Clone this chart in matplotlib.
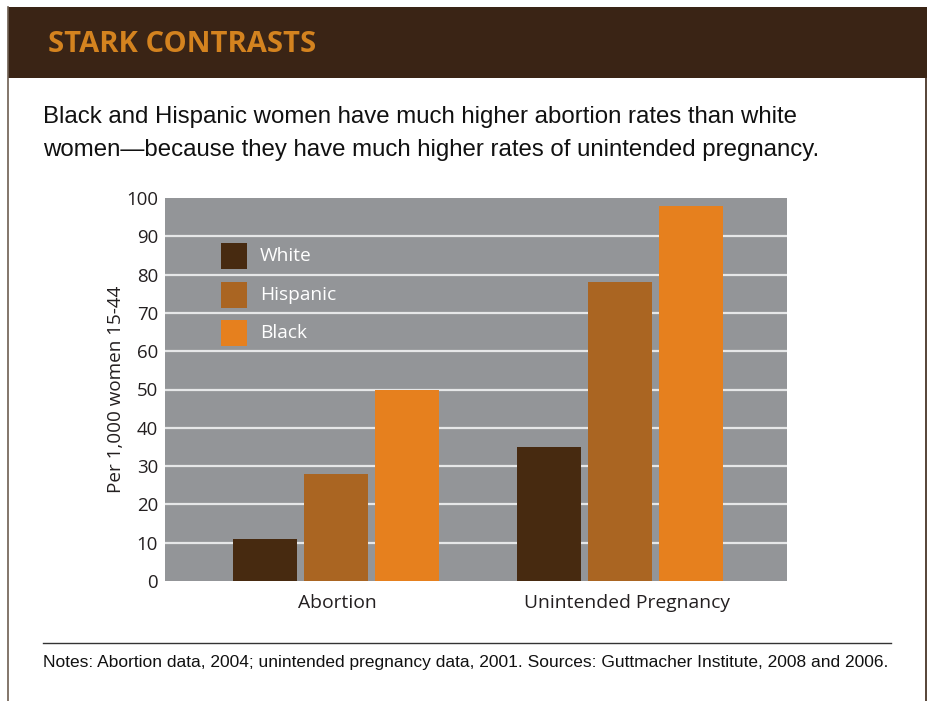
import matplotlib
matplotlib.use("Agg")
import matplotlib.pyplot as plt
from matplotlib.patches import Rectangle
from matplotlib.lines import Line2D
from matplotlib.transforms import ScaledTranslation
import numpy as np

categories = ["Abortion", "Unintended Pregnancy"]
series_names = ["White", "Hispanic", "Black"]
white = [11, 35]
hispanic = [28, 78]
black = [50, 98]
yticks = [0, 10, 20, 30, 40, 50, 60, 70, 80, 90, 100]
colors = ["#472a10", "#aa6522", "#e6801e"]

W, H = 928, 701
fig = plt.figure(figsize=(W / 100, H / 100), dpi=100)
fig.patch.set_facecolor("white")

def fx(px):
    return px / W

def fy(py):
    return 1 - py / H

# header band
fig.add_artist(Rectangle((fx(8), fy(78)), fx(919), (78 - 7) / H, transform=fig.transFigure,
                         facecolor="#3a2415", edgecolor="none", zorder=0))
# borders
fig.add_artist(Line2D([fx(8.5), fx(8.5)], [fy(7), 0], transform=fig.transFigure, color="#6e5f52", lw=1.2))
fig.add_artist(Line2D([fx(926.5), fx(926.5)], [fy(78), 0], transform=fig.transFigure, color="#3a2415", lw=1.2))

fig.text(fx(48), fy(44), "STARK CONTRASTS", color="#d4831f", fontsize=21, fontweight="bold",
         family=["Open Sans", "DejaVu Sans"], va="center", ha="left")

fig.text(fx(43), fy(117), "Black and Hispanic women have much higher abortion rates than white",
         fontsize=17.3, family=["Liberation Sans", "DejaVu Sans"], va="center", ha="left", color="#111111")
fig.text(fx(43), fy(150), "women\u2014because they have much higher rates of unintended pregnancy.",
         fontsize=17.3, family=["Liberation Sans", "DejaVu Sans"], va="center", ha="left", color="#111111")

# notes
fig.add_artist(Line2D([fx(43), fx(891)], [fy(643), fy(643)], transform=fig.transFigure, color="#333333", lw=1.0))
fig.text(fx(43), fy(662), "Notes: Abortion data, 2004; unintended pregnancy data, 2001. Sources: Guttmacher Institute, 2008 and 2006.",
         fontsize=12.55, family=["Liberation Sans", "DejaVu Sans"],
         va="center", ha="left", color="#111111")

ax = fig.add_axes([fx(165), 120 / H, 622 / W, 383 / H])
ax.set_facecolor("#939598")
for s in ax.spines.values():
    s.set_visible(False)

x = np.arange(len(categories))
step = 71 / 284
width = 64 / 284
for i, (vals, name) in enumerate(zip([white, hispanic, black], series_names)):
    ax.bar(x + (i - 1) * step, vals, width=width, color=colors[i], label=name, zorder=3)

ax.set_ylim(0, 100)
ax.set_xlim(-0.602, 1.588)
ax.set_yticks(yticks)
ax.set_yticklabels([str(t) for t in yticks])
for t in yticks:
    if 0 < t < 100:
        ax.axhline(t, color="#e6e7e8", lw=1.6, zorder=1)
ax.set_xticks(x)
ax.set_xticklabels(categories)
ax.tick_params(axis="both", length=0, colors="#231f20")
ax.tick_params(axis="y", pad=5, labelsize=13.4)
ax.tick_params(axis="x", pad=9, labelsize=13.9)
for lab in ax.get_xticklabels() + ax.get_yticklabels():
    lab.set_family(["Open Sans", "DejaVu Sans"])
xl = ax.get_xticklabels()
xl[0].set_transform(xl[0].get_transform() + ScaledTranslation(1.5 / 100, 0, fig.dpi_scale_trans))
xl[1].set_transform(xl[1].get_transform() + ScaledTranslation(7 / 100, 0, fig.dpi_scale_trans))
ax.set_ylabel("Per 1,000 women 15-44", fontsize=13.6, family=["Open Sans", "DejaVu Sans"],
              color="#231f20", labelpad=1)

# legend (manual placement in axes fraction)
ax_w, ax_h = 622.0, 383.0
tops = [243, 282, 320]
for name, col, top in zip(series_names, colors, tops):
    ax.add_patch(Rectangle(((221 - 165) / ax_w, (581 - top - 26) / ax_h), 26 / ax_w, 26 / ax_h,
                           transform=ax.transAxes, facecolor=col, edgecolor="none", zorder=4))
    ax.text((260 - 165) / ax_w, (581 - top - 13) / ax_h, name, transform=ax.transAxes,
            color="white", fontsize=13.8, family=["Open Sans", "DejaVu Sans"],
            va="center", ha="left", zorder=4)

fig.savefig("out.png", dpi=100, facecolor="white")
